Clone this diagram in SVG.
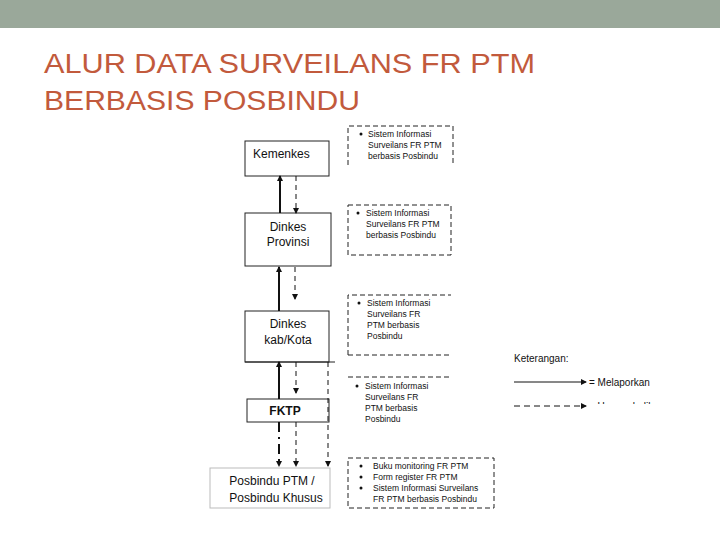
<svg xmlns="http://www.w3.org/2000/svg" width="720" height="540" viewBox="0 0 720 540">
<style>
.t{font-family:"Liberation Sans",Arial,sans-serif;fill:#111}
.box{fill:#fff;stroke:#222;stroke-width:1}
.db{fill:none;stroke:#222;stroke-width:1;stroke-dasharray:5,3}
.s{stroke:#111;stroke-width:2;fill:none}
.d{stroke:#111;stroke-width:1;stroke-dasharray:5,4;fill:none}
</style>
<defs>
<marker id="a" markerWidth="6" markerHeight="6" refX="5" refY="3" orient="auto" markerUnits="userSpaceOnUse"><path d="M0,0L6,3L0,6z" fill="#111"/></marker>
<clipPath id="c"><rect x="500" y="390" width="200" height="14"/></clipPath>
</defs>
<rect width="720" height="540" fill="#fff"/>
<rect width="720" height="28" fill="#9aa89a"/>
<text class="t" x="44" y="73" font-size="27" textLength="491" lengthAdjust="spacingAndGlyphs" style="fill:#c25a3c">ALUR DATA SURVEILANS FR PTM</text>
<text class="t" x="44" y="110" font-size="27" textLength="316" lengthAdjust="spacingAndGlyphs" style="fill:#c25a3c">BERBASIS POSBINDU</text>
<g id="kemenkes"><rect class="box" x="245" y="141" width="84" height="35"/><text class="t" x="253" y="158" font-size="12">Kemenkes</text></g>
<g id="provinsi"><rect class="box" x="245" y="213" width="86" height="53"/><text class="t" x="288" y="231" font-size="12" text-anchor="middle">Dinkes</text><text class="t" x="288" y="246" font-size="12" text-anchor="middle">Provinsi</text></g>
<g id="kabkota"><rect class="box" x="245" y="311" width="84" height="51"/><line x1="245" y1="362" x2="335" y2="362" stroke="#222"/><text class="t" x="288" y="328" font-size="12" text-anchor="middle">Dinkes</text><text class="t" x="288" y="344" font-size="12" text-anchor="middle">kab/Kota</text></g>
<g id="fktp"><rect class="box" x="247" y="399" width="82" height="23"/><text class="t" x="285" y="415" font-size="12" font-weight="bold" text-anchor="middle">FKTP</text></g>
<g id="posbindu"><rect x="210" y="468" width="120" height="40" fill="#fff" stroke="#bbb"/><text class="t" x="272" y="485" font-size="12" text-anchor="middle">Posbindu PTM /</text><text class="t" x="276" y="502" font-size="12" text-anchor="middle">Posbindu Khusus</text></g>
<g id="info1"><path class="db" d="M348,165V126H453V165"/><circle cx="361" cy="134" r="1.5" fill="#111"/><g class="t" font-size="8.5"><text x="368" y="137">Sistem Informasi</text><text x="368" y="148">Surveilans FR PTM</text><text x="368" y="159">berbasis Posbindu</text></g></g>
<g id="info2"><rect class="db" x="348" y="205" width="103" height="50"/><circle cx="358" cy="213" r="1.5" fill="#111"/><g class="t" font-size="8.5"><text x="366" y="216">Sistem Informasi</text><text x="366" y="227">Surveilans FR PTM</text><text x="366" y="238">berbasis Posbindu</text></g></g>
<g id="info3"><path class="db" d="M348,355V295H451M348,355H451"/><circle cx="359" cy="303" r="1.5" fill="#111"/><g class="t" font-size="8.5"><text x="367" y="306">Sistem Informasi</text><text x="367" y="317">Surveilans FR</text><text x="367" y="328">PTM berbasis</text><text x="367" y="339">Posbindu</text></g></g>
<g id="info4"><line class="db" x1="348" y1="377" x2="451" y2="377"/><circle cx="357" cy="386" r="1.5" fill="#111"/><g class="t" font-size="8.5"><text x="365" y="389">Sistem Informasi</text><text x="365" y="400">Surveilans FR</text><text x="365" y="411">PTM berbasis</text><text x="365" y="422">Posbindu</text></g></g>
<g id="info5"><rect class="db" x="348" y="458" width="146" height="50"/><g fill="#111"><circle cx="361" cy="466" r="1.5"/><circle cx="361" cy="477" r="1.5"/><circle cx="361" cy="488" r="1.5"/></g><g class="t" font-size="8.5"><text x="373" y="469">Buku monitoring FR PTM</text><text x="373" y="480">Form register FR PTM</text><text x="373" y="491">Sistem Informasi Surveilans</text><text x="373" y="502">FR PTM berbasis Posbindu</text></g></g>
<g id="connectors">
<line class="s" x1="280" y1="213" x2="280" y2="176" marker-end="url(#a)"/>
<line class="d" x1="296" y1="176" x2="296" y2="213" marker-end="url(#a)"/>
<line class="s" x1="279" y1="311" x2="279" y2="267" stroke-width="1.5" marker-end="url(#a)"/>
<line class="d" x1="295" y1="267" x2="295" y2="299" stroke-width="1.5" marker-end="url(#a)"/>
<line class="s" x1="279" y1="399" x2="279" y2="362" marker-end="url(#a)"/>
<line class="d" x1="296" y1="362" x2="296" y2="393" marker-end="url(#a)"/>
<line class="s" x1="279" y1="422" x2="279" y2="466" stroke-dasharray="10,5,2,5" marker-end="url(#a)"/>
<line class="d" x1="296" y1="422" x2="296" y2="466" marker-end="url(#a)"/>
<line class="d" x1="328" y1="362" x2="328" y2="466" marker-end="url(#a)"/>
</g>
<g id="legend">
<text class="t" x="514" y="362" font-size="10">Keterangan:</text>
<line x1="514" y1="382" x2="586" y2="382" stroke="#111" marker-end="url(#a)"/>
<text class="t" x="589" y="386" font-size="10">= Melaporkan</text>
<line x1="514" y1="406" x2="586" y2="406" stroke="#111" stroke-dasharray="6,4" marker-end="url(#a)"/>
<text class="t" x="589" y="410" font-size="10" clip-path="url(#c)">= Umpan balik</text>
</g>
</svg>
